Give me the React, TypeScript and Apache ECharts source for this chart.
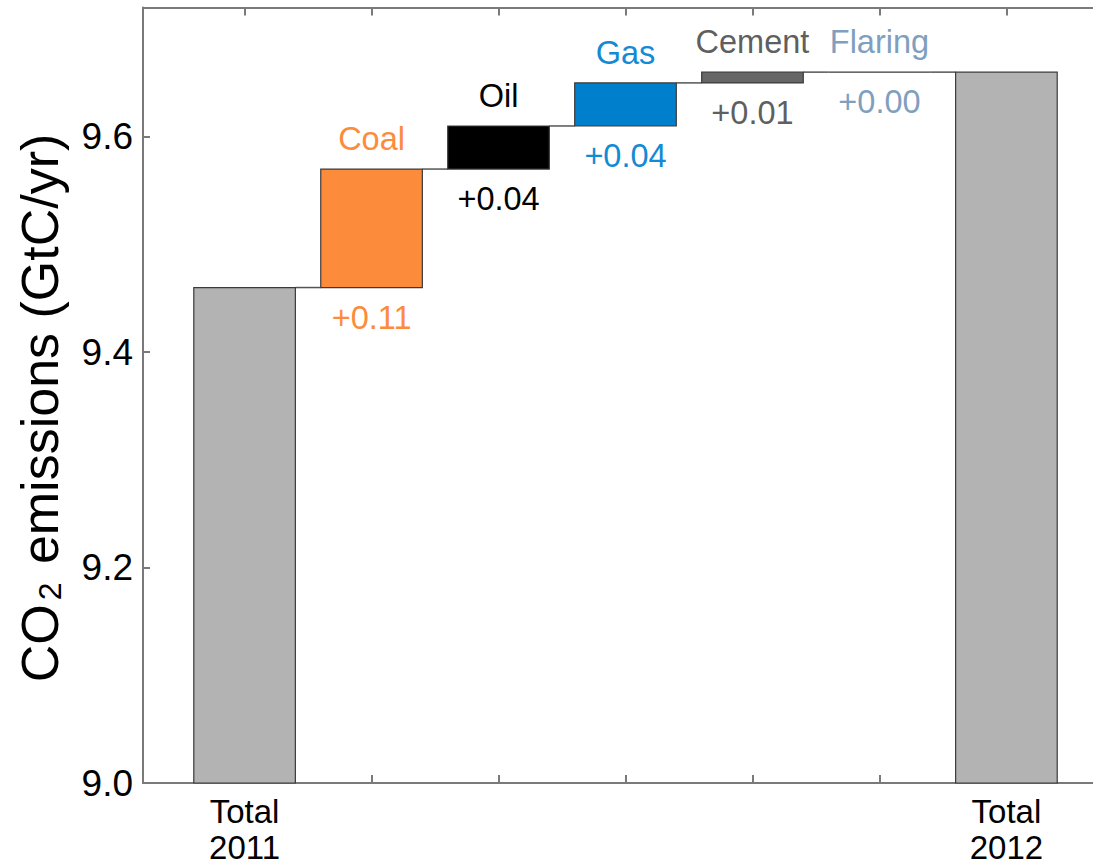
import React, { useEffect, useRef } from 'react';
import * as echarts from 'echarts';

// Waterfall of the change in fossil CO2 emissions between 2011 and 2012
const categories = ['Total\n2011', 'Coal', 'Oil', 'Gas', 'Cement', 'Flaring', 'Total\n2012'];
const total2011 = 9.46;
const sourceChanges = [0.11, 0.04, 0.04, 0.01, 0.0];
const barColors = ['#b3b3b3', '#fd8b3c', '#000000', '#0080cc', '#666666', '#7f9fbe', '#b3b3b3'];
const labelColors = ['#000000', '#fd8b3c', '#000000', '#138ad4', '#5f5f5f', '#809fbf', '#000000'];
const yTicks = [9.0, 9.2, 9.4, 9.6];
const xTicks = [1, 2, 3, 4, 5, 6, 7];

const Y_MIN = 9.0;
const Y_MAX = 9.72;
const FONT = '"Liberation Sans", Arial, Helvetica, sans-serif';
const HALF_W = 0.4;

export default function App() {
  const ref = useRef<HTMLDivElement>(null);

  useEffect(() => {
    if (!ref.current) return;
    const chart = echarts.init(ref.current, undefined, { renderer: 'svg' });

    // rows: [x position, low, high, category index]
    const rows: number[][] = [];
    let level = total2011;
    rows.push([1, Y_MIN, total2011, 0]);
    sourceChanges.forEach((d, i) => {
      rows.push([i + 2, level, level + d, i + 1]);
      level += d;
    });
    rows.push([categories.length, Y_MIN, level, categories.length - 1]);

    const lastIdx = categories.length - 1;

    const renderItem = (params: any, api: any) => {
      const x = api.value(0);
      const lo = api.value(1);
      const hi = api.value(2);
      const idx = api.value(3);
      const tl = api.coord([x - HALF_W, hi]);
      const br = api.coord([x + HALF_W, lo]);
      const children: any[] = [];

      if (idx < lastIdx) {
        const a = api.coord([x + HALF_W, hi]);
        const b = api.coord([x + 1 - HALF_W, hi]);
        children.push({
          type: 'line',
          shape: { x1: a[0], y1: a[1], x2: b[0], y2: b[1] },
          style: { stroke: '#555555', lineWidth: 1.5 },
        });
      }

      children.push({
        type: 'rect',
        shape: { x: tl[0], y: tl[1], width: br[0] - tl[0], height: br[1] - tl[1] },
        style: { fill: barColors[idx], stroke: '#3a3a3a', lineWidth: 1.2 },
      });

      if (idx > 0 && idx < lastIdx) {
        const cx = (tl[0] + br[0]) / 2;
        const change = sourceChanges[idx - 1];
        const textStyle = {
          fill: labelColors[idx],
          fontSize: 32.5,
          fontFamily: FONT,
          align: 'center',
          verticalAlign: 'middle',
          textAlign: 'center',
          textVerticalAlign: 'middle',
        };
        children.push({
          type: 'text',
          x: cx,
          y: tl[1] - 30,
          style: { ...textStyle, text: categories[idx] },
        });
        children.push({
          type: 'text',
          x: cx,
          y: br[1] + 30,
          style: { ...textStyle, text: '+' + change.toFixed(2) },
        });
      }
      return { type: 'group', children };
    };

    const axisLine = { show: true, onZero: false, lineStyle: { color: '#7a7a7a', width: 2 } };
    const tickStyle = { color: '#7a7a7a', width: 2 };

    chart.setOption({
      animation: false,
      backgroundColor: '#ffffff',
      grid: { left: 143, top: 7.5, bottom: 81, right: 2, containLabel: false },
      xAxis: [
        {
          type: 'value',
          position: 'bottom',
          min: 0.2,
          max: 7.8,
          axisLine,
          axisTick: { show: true, inside: true, length: 8, customValues: xTicks, lineStyle: tickStyle },
          axisLabel: {
            show: true,
            customValues: [1, categories.length],
            formatter: (v: number) => categories[Math.round(v) - 1] || '',
            fontSize: 33,
            lineHeight: 36,
            fontFamily: FONT,
            color: '#000000',
            margin: 10,
          },
          splitLine: { show: false },
        },
        {
          type: 'value',
          position: 'top',
          min: 0.2,
          max: 7.8,
          axisLine,
          axisTick: { show: true, inside: true, length: 8, customValues: xTicks, lineStyle: tickStyle },
          axisLabel: { show: false },
          splitLine: { show: false },
        },
      ],
      yAxis: {
        type: 'value',
        min: Y_MIN,
        max: Y_MAX,
        axisLine,
        axisTick: { show: true, inside: true, length: 7, customValues: yTicks, lineStyle: tickStyle },
        axisLabel: {
          show: true,
          customValues: yTicks,
          formatter: (v: number) => v.toFixed(1),
          fontSize: 37,
          fontFamily: FONT,
          color: '#000000',
          margin: 10,
        },
        splitLine: { show: false },
      },
      graphic: [
        {
          type: 'text',
          x: 40,
          y: 408,
          rotation: Math.PI / 2,
          style: {
            text: '{m|CO}{s|2}{m| emissions (GtC/yr)}',
            align: 'center',
            verticalAlign: 'middle',
            textAlign: 'center',
            textVerticalAlign: 'middle',
            fill: '#000000',
            rich: {
              m: { fontSize: 52, lineHeight: 52, fontFamily: FONT, fill: '#000000' },
              s: { fontSize: 32, lineHeight: 20, verticalAlign: 'bottom', fontFamily: FONT, fill: '#000000', padding: [0, 4, 0, 4] },
            },
          },
        },
      ],
      series: [
        {
          type: 'custom',
          xAxisIndex: 0,
          yAxisIndex: 0,
          renderItem,
          data: rows,
          clip: false,
        },
      ],
    });

    return () => chart.dispose();
  }, []);

  // The plot frame runs past the right edge of the visible area, so the chart
  // canvas is a little wider than its clipping wrapper.
  return (
    <div
      style={{
        position: 'fixed',
        left: 0,
        top: 0,
        width: 1093,
        height: 865,
        overflow: 'hidden',
        background: '#ffffff',
      }}
    >
      <div ref={ref} style={{ width: 1110, height: 865 }} />
    </div>
  );
}
